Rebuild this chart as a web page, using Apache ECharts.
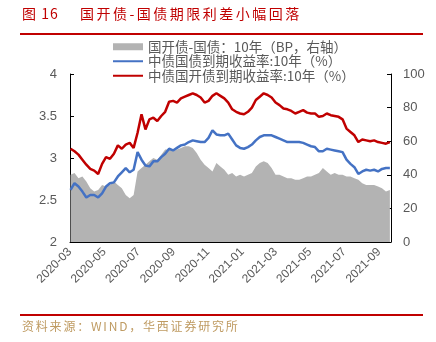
<!DOCTYPE html>
<html>
<head>
<meta charset="utf-8">
<script src="https://cdn.jsdelivr.net/npm/echarts@6/dist/echarts.min.js"></script>
<style>
  html, body { margin: 0; padding: 0; background: #fff; }
  #wrap { position: relative; width: 436px; height: 342px; overflow: hidden; font-family: "Noto Sans CJK SC", sans-serif; }
  #chart { position: absolute; left: 0; top: 0; width: 436px; height: 342px; }
  #title { position: absolute; left: 22px; top: 3px; color: #C00000; font-size: 14px; line-height: 20px; letter-spacing: 2.5px; white-space: nowrap; }
  #title .fig { display: inline-block; width: 58px; letter-spacing: 1px; }
  .rule { position: absolute; left: 20px; width: 403px; height: 2px; background: #C00000; }
  #src { position: absolute; left: 22px; top: 318px; color: #BF9B62; font-size: 12px; line-height: 16px; letter-spacing: 1.8px; white-space: nowrap; }
</style>
</head>
<body>
<div id="wrap">
  <div id="chart"></div>
  <div id="title"><span class="fig">图 16</span>国开债-国债期限利差小幅回落</div>
  <div class="rule" style="top:33px"></div>
  <div class="rule" style="top:314px"></div>
  <div id="src">资料来源：WIND，华西证券研究所</div>
</div>
<script>
// Weekly observation dates
const dates = ['2020-03-02','2020-03-09','2020-03-16','2020-03-23','2020-03-30','2020-04-06','2020-04-13','2020-04-20','2020-04-27',
  '2020-05-04','2020-05-11','2020-05-18','2020-05-25','2020-06-01','2020-06-08','2020-06-15','2020-06-22','2020-06-29',
  '2020-07-06','2020-07-13','2020-07-20','2020-07-27','2020-08-03','2020-08-10','2020-08-17','2020-08-24','2020-08-31',
  '2020-09-07','2020-09-14','2020-09-21','2020-09-28','2020-10-05','2020-10-12','2020-10-19','2020-10-26',
  '2020-11-02','2020-11-09','2020-11-16','2020-11-23','2020-11-30','2020-12-07','2020-12-14','2020-12-21','2020-12-28',
  '2021-01-04','2021-01-11','2021-01-18','2021-01-25','2021-02-01','2021-02-08','2021-02-15','2021-02-22',
  '2021-03-01','2021-03-08','2021-03-15','2021-03-22','2021-03-29','2021-04-05','2021-04-12','2021-04-19','2021-04-26',
  '2021-05-03','2021-05-10','2021-05-17','2021-05-24','2021-05-31','2021-06-07','2021-06-14','2021-06-21','2021-06-28',
  '2021-07-05','2021-07-12','2021-07-19','2021-07-26','2021-08-02','2021-08-09','2021-08-16','2021-08-23','2021-08-30',
  '2021-09-06','2021-09-13','2021-09-20'];

// CDB 10Y minus CGB 10Y spread, bp (right axis)
const spreadBp = [40,41,38,39,36,32,30,31,34,33, 34,36,34,32,28,26,28,42,44,46,
  48,50,49,52,55,55,54,55,56,57, 57,56,53,49,46,44,42,47,45,43,
  40,41,39,40,39,40,41,45,47,48, 47,44,40,40,39,38,38,37,37,38,
  39,39,40,41,44,42,40,41,40,40, 39,39,38,37,35,34,34,34,33,32, 30,31];

// ChinaBond government bond yield, 10Y (%)
const cgbYield = [2.62,2.70,2.66,2.60,2.53,2.56,2.56,2.53,2.58,2.66, 2.70,2.71,2.78,2.83,2.88,2.83,2.86,3.07,2.98,2.91,
  2.90,2.96,2.96,3.01,3.05,3.11,3.09,3.12,3.15,3.16, 3.19,3.21,3.20,3.19,3.19,3.24,3.33,3.28,3.27,3.27,
  3.29,3.22,3.15,3.12,3.11,3.13,3.16,3.21,3.25,3.27, 3.27,3.27,3.25,3.23,3.21,3.19,3.19,3.19,3.19,3.18,
  3.16,3.14,3.13,3.08,3.08,3.11,3.10,3.09,3.08,3.07, 2.98,2.93,2.89,2.81,2.84,2.86,2.85,2.86,2.84,2.87, 2.88,2.88];

// ChinaBond CDB bond yield, 10Y (%)
const cdbYield = [3.11,3.08,3.04,2.98,2.92,2.87,2.85,2.81,2.93,3.01, 2.99,3.05,3.15,3.11,3.16,3.18,3.12,3.30,3.52,3.34,
  3.46,3.48,3.44,3.50,3.55,3.67,3.68,3.66,3.71,3.73, 3.75,3.77,3.75,3.72,3.66,3.68,3.74,3.77,3.74,3.71,
  3.66,3.58,3.55,3.53,3.52,3.55,3.60,3.69,3.73,3.77, 3.75,3.72,3.66,3.63,3.59,3.58,3.56,3.53,3.55,3.57,
  3.54,3.53,3.53,3.49,3.50,3.53,3.51,3.50,3.49,3.46, 3.35,3.31,3.27,3.19,3.22,3.21,3.20,3.21,3.19,3.18, 3.17,3.19];

// Month labels on the date axis
const tickLabels = ['2020-03','2020-05','2020-07','2020-09','2020-11','2021-01','2021-03','2021-05','2021-07','2021-09'];

const seriesNames = ['国开债-国债：10年（BP，右轴）', '中债国债到期收益率:10年（%）', '中债国开债到期收益率:10年（%）'];

function toTime(s) {
  const p = s.split('-').map(Number);
  return new Date(p[0], p[1] - 1, p[2] || 1).getTime();
}
const tickTimes = tickLabels.map(toTime);
const labelOf = {};
tickLabels.forEach((s, i) => { labelOf[tickTimes[i]] = s; });
const pairs = vals => dates.map((d, i) => [toTime(d), vals[i]]);

const axisColor = '#000';
const labelColor = '#595959';
const numFont = '"Liberation Sans", Arial, sans-serif';

const chart = echarts.init(document.getElementById('chart'));
chart.setOption({
  animation: false,
  backgroundColor: 'transparent',
  grid: { left: 70, right: 45, top: 74, bottom: 100 },
  legend: {
    orient: 'vertical', left: 107, top: 35,
    itemWidth: 30, itemHeight: 7, itemGap: 1,
    textStyle: { fontFamily: '"Noto Sans CJK SC", sans-serif', fontSize: 13.5, color: labelColor },
    data: [
      { name: seriesNames[0], icon: 'rect' },
      { name: seriesNames[1], itemStyle: { opacity: 0 } },
      { name: seriesNames[2], itemStyle: { opacity: 0 } }
    ]
  },
  xAxis: {
    type: 'value',
    min: toTime('2020-03-01'),
    max: toTime('2021-09-22'),
    axisLine: { lineStyle: { color: axisColor, width: 1 } },
    axisTick: { inside: true, length: 4, customValues: tickTimes, lineStyle: { color: axisColor } },
    axisLabel: {
      customValues: tickTimes, rotate: 45, margin: 8,
      fontFamily: numFont, fontSize: 12, color: labelColor,
      formatter: v => labelOf[v] || ''
    },
    splitLine: { show: false }
  },
  yAxis: [
    {
      type: 'value', position: 'left', min: 2, max: 4, interval: 0.5,
      axisLine: { show: true, lineStyle: { color: axisColor } },
      axisTick: { show: true, inside: true, length: 4, lineStyle: { color: axisColor } },
      axisLabel: { margin: 13, fontFamily: numFont, fontSize: 13, color: labelColor },
      splitLine: { show: false }
    },
    {
      type: 'value', position: 'right', min: 0, max: 100, interval: 20,
      axisLine: { show: true, lineStyle: { color: axisColor } },
      axisTick: { show: true, inside: true, length: 4, lineStyle: { color: axisColor } },
      axisLabel: { margin: 12, fontFamily: numFont, fontSize: 13, color: labelColor },
      splitLine: { show: false }
    }
  ],
  series: [
    {
      name: seriesNames[0], type: 'line', yAxisIndex: 1, data: pairs(spreadBp),
      symbol: 'none', lineStyle: { width: 0 }, itemStyle: { color: '#B3B3B3' },
      areaStyle: { color: '#B3B3B3', opacity: 1 }, z: 1
    },
    {
      name: seriesNames[1], type: 'line', yAxisIndex: 0, data: pairs(cgbYield),
      symbol: 'none', lineStyle: { width: 2.5, color: '#4472C4' }, itemStyle: { color: '#4472C4' }, z: 2
    },
    {
      name: seriesNames[2], type: 'line', yAxisIndex: 0, data: pairs(cdbYield),
      symbol: 'none', lineStyle: { width: 2.5, color: '#C00000' }, itemStyle: { color: '#C00000' }, z: 3
    }
  ]
});
</script>
</body>
</html>
